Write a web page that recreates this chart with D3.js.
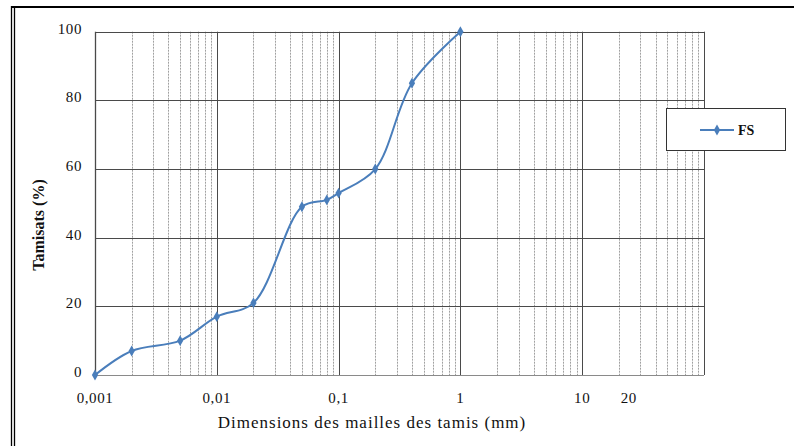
<!DOCTYPE html>
<html>
<head>
<meta charset="utf-8">
<script src="https://cdn.jsdelivr.net/npm/d3@7"></script>
<style>
  body { margin: 0; background: #fff; }
</style>
</head>
<body>
<script>
// data
var sizes = [0.001, 0.002, 0.005, 0.01, 0.02, 0.05, 0.08, 0.1, 0.2, 0.4, 1];
var passing = [0, 7, 10, 17, 21, 49, 51, 53, 60, 85, 100];
var seriesName = "FS";

var xTickValues = [0.001, 0.01, 0.1, 1, 10, 20];
var xTickLabels = ["0,001", "0,01", "0,1", "1", "10", "20"];
var yTicks = [0, 20, 40, 60, 80, 100];

var W = 794, H = 446;
var plot = {left: 95, right: 704, top: 31.7, bottom: 375};
var serif = "'Liberation Serif', 'Times New Roman', 'DejaVu Serif', serif";

var svg = d3.select("body").append("svg")
    .attr("width", W)
    .attr("height", H)
    .attr("font-family", serif);

// outer frame (top rule + double left rule)
svg.append("line").attr("x1", 11).attr("x2", W).attr("y1", 7).attr("y2", 7)
    .attr("stroke", "#000").attr("stroke-width", 2.2);
svg.append("line").attr("x1", 11.5).attr("x2", 11.5).attr("y1", 6).attr("y2", H)
    .attr("stroke", "#000").attr("stroke-width", 1.3);
svg.append("line").attr("x1", 14.5).attr("x2", 14.5).attr("y1", 6).attr("y2", H)
    .attr("stroke", "#000").attr("stroke-width", 1.3);

var x = d3.scaleLog()
    .domain([0.001, 100])
    .range([plot.left, plot.right]);
var y = d3.scaleLinear()
    .domain([0, 100])
    .range([plot.bottom, plot.top]);

// vertical grid: minor dashed, decades solid
var allTicks = x.ticks();
var isMajor = function(d) { return Math.abs(Math.log10(d) - Math.round(Math.log10(d))) < 1e-9; };

svg.append("g").selectAll("line")
    .data(allTicks.filter(function(d) { return !isMajor(d); }))
  .enter().append("line")
    .attr("x1", function(d) { return Math.round(x(d)) + 0.5; })
    .attr("x2", function(d) { return Math.round(x(d)) + 0.5; })
    .attr("y1", plot.top)
    .attr("y2", plot.bottom)
    .attr("stroke", "#a0a0a0")
    .attr("stroke-width", 1)
    .attr("stroke-dasharray", "2,1");

// horizontal grid
svg.append("g").selectAll("line")
    .data(yTicks)
  .enter().append("line")
    .attr("x1", plot.left)
    .attr("x2", plot.right)
    .attr("y1", function(d) { return Math.round(y(d)) + 0.5; })
    .attr("y2", function(d) { return Math.round(y(d)) + 0.5; })
    .attr("stroke", function(d) { return d === 0 ? "#8a8a8a" : "#4a4a4a"; })
    .attr("stroke-width", 1);

svg.append("g").selectAll("line")
    .data(allTicks.filter(isMajor))
  .enter().append("line")
    .attr("x1", function(d) { return Math.round(x(d)) + 0.5; })
    .attr("x2", function(d) { return Math.round(x(d)) + 0.5; })
    .attr("y1", plot.top)
    .attr("y2", plot.bottom)
    .attr("stroke", "#4a4a4a")
    .attr("stroke-width", function(d) { return d === 0.001 ? 1.3 : 1; });

// y tick labels
svg.append("g").selectAll("text")
    .data(yTicks)
  .enter().append("text")
    .attr("x", 82)
    .attr("y", function(d) { return y(d) + 2; })
    .attr("text-anchor", "end")
    .attr("fill", "#111")
    .style("font-size", "15px")
    .style("letter-spacing", "0.6px")
    .text(function(d) { return d; });

// x tick labels
svg.append("g").selectAll("text")
    .data(xTickValues)
  .enter().append("text")
    .attr("x", function(d) { return x(d) + (d === 20 ? 10 : 0); })
    .attr("y", 403)
    .attr("text-anchor", "middle")
    .attr("fill", "#111")
    .style("font-size", "15px")
    .style("letter-spacing", "0.6px")
    .text(function(d, i) { return xTickLabels[i]; });

// axis titles
svg.append("text")
    .attr("x", 372)
    .attr("y", 428)
    .attr("text-anchor", "middle")
    .attr("fill", "#111")
    .style("font-size", "17px")
    .style("letter-spacing", "1px")
    .text("Dimensions des mailles des tamis (mm)");

svg.append("text")
    .attr("transform", "translate(44,225) rotate(-90)")
    .attr("text-anchor", "middle")
    .attr("fill", "#111")
    .style("font-size", "16px")
    .style("font-weight", "bold")
    .text("Tamisats (%)");

// series
var pts = sizes.map(function(d, i) { return [d, passing[i]]; });
var blue = "#4a7ebb";

svg.append("path")
    .datum(pts)
    .attr("fill", "none")
    .attr("stroke", blue)
    .attr("stroke-width", 2)
    .attr("d", d3.line()
        .x(function(d) { return x(d[0]); })
        .y(function(d) { return y(d[1]); })
        .curve(d3.curveCatmullRom.alpha(0.5)));

var diamond = d3.symbol().type(d3.symbolDiamond).size(34);
svg.append("g").selectAll("path")
    .data(pts)
  .enter().append("path")
    .attr("transform", function(d) { return "translate(" + x(d[0]) + "," + y(d[1]) + ")"; })
    .attr("d", diamond)
    .attr("fill", blue);

// legend
var lg = svg.append("g").attr("transform", "translate(666,108)");
lg.append("rect")
    .attr("x", 0.5).attr("y", 0.5)
    .attr("width", 119).attr("height", 42)
    .attr("fill", "#fff")
    .attr("stroke", "#333")
    .attr("stroke-width", 1);
lg.append("line")
    .attr("x1", 34).attr("x2", 68).attr("y1", 22).attr("y2", 22)
    .attr("stroke", blue).attr("stroke-width", 2);
lg.append("path")
    .attr("transform", "translate(51,22)")
    .attr("d", diamond)
    .attr("fill", blue);
lg.append("text")
    .attr("x", 72).attr("y", 27)
    .attr("fill", "#111")
    .style("font-size", "14px")
    .style("font-weight", "bold")
    .text(seriesName);
</script>
</body>
</html>
